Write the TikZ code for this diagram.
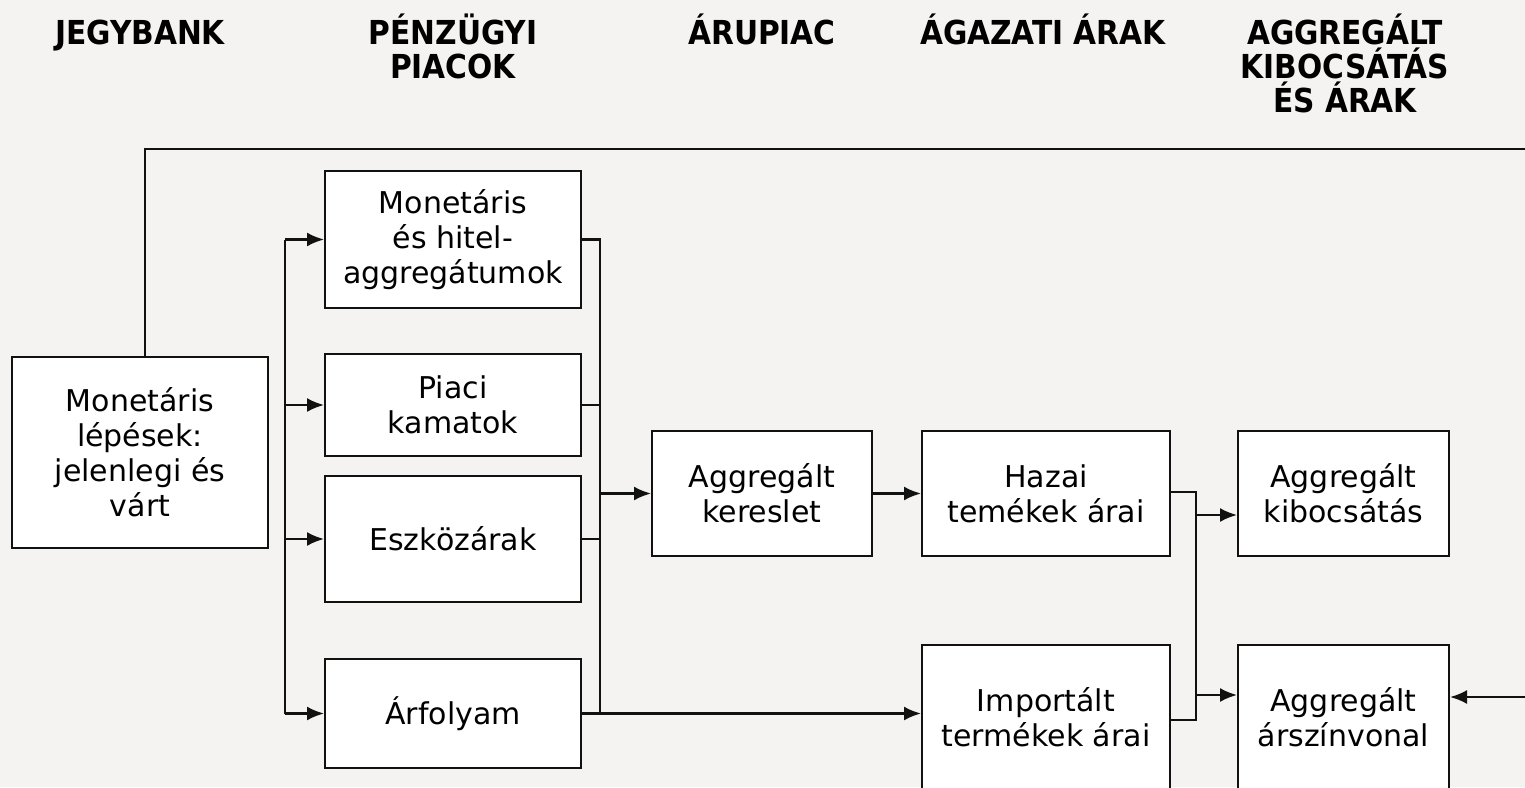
\documentclass[tikz,border=0pt]{standalone}
\usepackage{fontspec}
\setmainfont{DejaVu Sans}
\newfontfamily\headfont{DejaVu Sans Condensed}
\usetikzlibrary{arrows.meta}

\definecolor{ChartBg}{HTML}{f4f3f1}
\definecolor{ChartInk}{HTML}{111111}

\tikzstyle{chan-box}=[draw=ChartInk, fill=white, line width=2pt, align=center, inner sep=0pt,
  font=\fontsize{30}{35}\selectfont]
\tikzstyle{chan-head}=[anchor=north, align=center, inner sep=0pt,
  font=\headfont\bfseries\fontsize{33}{34}\selectfont, execute at begin node=\vphantom{Á}]
\tikzstyle{chan-line}=[draw=ChartInk, line width=2.2pt]
\tikzstyle{chan-arrow}=[draw=ChartInk, line width=2.2pt, -{Latex[length=17pt,width=14pt]}]

\begin{document}
\begin{tikzpicture}
      \useasboundingbox (0pt, 0pt) rectangle (1525pt, -787pt);
      \fill[ChartBg] (0pt, 0pt) rectangle (1525pt, -787pt);

      % column headers
      \node (headBank)   at (140pt,  -14pt) [chan-head] {JEGYBANK};
      \node (headFin)    at (453pt,  -14pt) [chan-head] {PÉNZÜGYI\\PIACOK};
      \node (headGoods)  at (762pt,  -14pt) [chan-head] {ÁRUPIAC};
      \node (headSector) at (1043pt, -14pt) [chan-head] {ÁGAZATI ÁRAK};
      \node (headAggr)   at (1345pt, -14pt) [chan-head] {AGGREGÁLT\\KIBOCSÁTÁS\\ÉS ÁRAK};

      % boxes
      \node (boxMon) at (140pt, -452.5pt)
            [chan-box, minimum width=256pt, minimum height=191pt] {Monetáris\\lépések:\\jelenlegi és\\várt};
      \node (boxAggr) at (453pt, -239.5pt)
            [chan-box, minimum width=256pt, minimum height=137pt] {Monetáris\\és hitel-\\aggregátumok};
      \node (boxRate) at (453pt, -405pt)
            [chan-box, minimum width=256pt, minimum height=102pt] {Piaci\\kamatok};
      \node (boxAsset) at (453pt, -539pt)
            [chan-box, minimum width=256pt, minimum height=126pt] {Eszközárak};
      \node (boxFx) at (453pt, -713.5pt)
            [chan-box, minimum width=256pt, minimum height=109pt] {Árfolyam};
      \node (boxDemand) at (762pt, -493.5pt)
            [chan-box, minimum width=220pt, minimum height=125pt] {Aggregált\\kereslet};
      \node (boxHome) at (1046pt, -493.5pt)
            [chan-box, minimum width=248pt, minimum height=125pt] {Hazai\\temékek árai};
      \node (boxImport) at (1046pt, -717.5pt)
            [chan-box, minimum width=248pt, minimum height=145pt] {Importált\\termékek árai};
      \node (boxOutput) at (1343.5pt, -493.5pt)
            [chan-box, minimum width=211pt, minimum height=125pt] {Aggregált\\kibocsátás};
      \node (boxLevel) at (1343.5pt, -717.5pt)
            [chan-box, minimum width=211pt, minimum height=145pt] {Aggregált\\árszínvonal};

      % buses and feedback ends
      \coordinate (busLeft)  at (285pt, 0pt);
      \coordinate (busRight) at (600pt, 0pt);
      \coordinate (busPrice) at (1196pt, 0pt);
      \coordinate (fbTop)    at (1530pt, -149pt);
      \coordinate (fbRight)  at (1530pt, -697pt);

      % feedback loop
      \draw[chan-line] ([xshift=5pt]boxMon.north) |- (fbTop);
      \draw[chan-arrow] (fbRight) -- (fbRight -| boxLevel.east);

      % into the financial markets
      \draw[chan-line] (boxAggr.west -| busLeft) -- (boxFx.west -| busLeft);
      \draw[chan-arrow] (boxAggr.west -| busLeft) -- (boxAggr.west);
      \draw[chan-arrow] (boxRate.west -| busLeft) -- (boxRate.west);
      \draw[chan-arrow] (boxAsset.west -| busLeft) -- (boxAsset.west);
      \draw[chan-arrow] (boxFx.west -| busLeft) -- (boxFx.west);

      % out of the financial markets
      \draw[chan-line] (boxAggr.east) -| (boxFx.east -| busRight);
      \draw[chan-line] (boxRate.east) -- (boxRate.east -| busRight);
      \draw[chan-line] (boxAsset.east) -- (boxAsset.east -| busRight);
      \draw[chan-arrow] (boxDemand.west -| busRight) -- (boxDemand.west);
      \draw[chan-arrow] (boxFx.east) -- (boxFx.east -| boxImport.west);
      \draw[chan-arrow] (boxDemand.east) -- (boxHome.west);

      % into aggregate output and prices
      \draw[chan-line] ([yshift=1.5pt]boxHome.east) -| ([yshift=-2.5pt]boxImport.east -| busPrice)
            -- ([yshift=-2.5pt]boxImport.east);
      \draw[chan-arrow] ([yshift=-21.5pt]boxOutput.west -| busPrice) -- ([yshift=-21.5pt]boxOutput.west);
      \draw[chan-arrow] ([yshift=22.5pt]boxLevel.west -| busPrice) -- ([yshift=22.5pt]boxLevel.west);
    \end{tikzpicture}
\end{document}
